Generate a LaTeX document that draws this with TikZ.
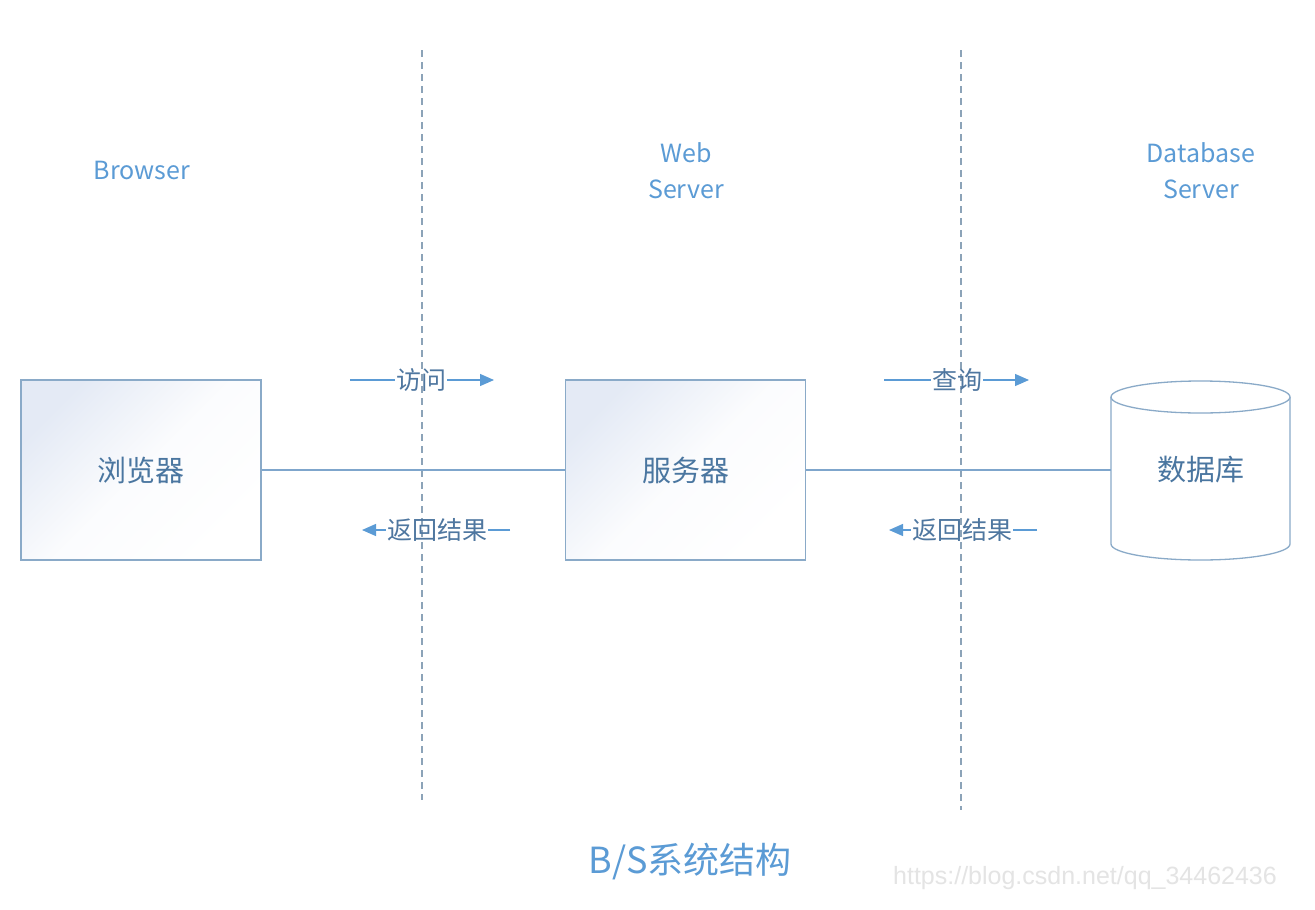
\documentclass[tikz,border=0pt]{standalone}
\usepackage{fontspec}
\setmainfont{Noto Sans CJK SC}
\newfontfamily\wmfont{Liberation Sans}
\usetikzlibrary{arrows.meta}
\definecolor{lbl}{HTML}{5B9BD5}
\definecolor{boxtxt}{HTML}{4A76A0}
\definecolor{boxline}{HTML}{8AAAC8}
\definecolor{gradtop}{HTML}{E4EAF5}
\definecolor{dashc}{HTML}{8CA3B8}
\definecolor{conn}{HTML}{7FA6CC}
\definecolor{arr}{HTML}{5B9BD5}
\definecolor{arrtxt}{HTML}{4F77A0}
\definecolor{wm}{HTML}{E4E4E4}
\tikzset{
  tierlabel/.style={text=lbl, font=\fontsize{25}{36}\selectfont, align=center, inner sep=0pt},
  boxnode/.style={draw=boxline, line width=1.3pt, minimum width=240pt, minimum height=180pt, inner sep=0pt,
     top color=gradtop, bottom color=white, middle color=white!85!gradtop, shading angle=45, text=boxtxt, font=\fontsize{29}{30}\selectfont},
  divider/.style={draw=dashc, line width=1.4pt, dash pattern=on 7pt off 5pt},
  connline/.style={draw=conn, line width=1.3pt},
  flow/.style={draw=arr, line width=1.3pt},
  flowtip/.style={-{Triangle[length=14pt,width=12pt]}},
  flowtxt/.style={text=arrtxt, font=\fontsize{25}{26}\selectfont, inner sep=1pt},
}
\begin{document}
\begin{tikzpicture}[x=1pt,y=-1pt]
\useasboundingbox (0,0) rectangle (1315,910);
\fill[white] (0,0) rectangle (1315,910);

% dividers
\coordinate (d1t) at (422,50); \coordinate (d1b) at (422,800);
\coordinate (d2t) at (961,50); \coordinate (d2b) at (961,810);
\draw[divider] (d1t) -- (d1b);
\draw[divider] (d2t) -- (d2b);

% tier labels
\node[tierlabel] (lb) at (142,170) {Browser};
\node[tierlabel] (lw) at (686,171) {Web\\Server};
\node[tierlabel] (ld) at (1201,171) {Database\\Server};

% boxes
\node[boxnode] (br) at (141,470) {浏览器};
\node[boxnode] (sv) at (685.5,470) {服务器};

% database cylinder
\node[minimum width=179pt, minimum height=180pt, inner sep=0pt] (db) at (1200.5,470) {};
\fill[white] (1111,397) -- (1111,544) arc[start angle=180,end angle=0,x radius=89.5,y radius=16] -- (1290,397) -- cycle;
\draw[boxline, line width=1.3pt] (1111,397) -- (1111,544) arc[start angle=180,end angle=0,x radius=89.5,y radius=16] -- (1290,397);
\draw[boxline, line width=1.3pt, fill=white] (1200.5,397) ellipse[x radius=89.5,y radius=16];
\node[text=boxtxt, font=\fontsize{29}{30}\selectfont] (dbt) at (1200.5,470) {数据库};

% connectors
\draw[connline] (br.east) -- (sv.west);
\draw[connline] (sv.east) -- (db.west);

% flow arrows
\coordinate (a1s) at (350,380); \coordinate (a1e) at (494,380);
\node[flowtxt] (a1t) at (421,380) {访问};
\draw[flow] (a1s) -- (a1t.west);
\draw[flow,flowtip] (a1t.east) -- (a1e);

\coordinate (a2s) at (510,530); \coordinate (a2e) at (362,530);
\node[flowtxt] (a2t) at (437,530) {返回结果};
\draw[flow] (a2s) -- (a2t.east);
\draw[flow,flowtip] (a2t.west) -- (a2e);

\coordinate (a3s) at (884,380); \coordinate (a3e) at (1029,380);
\node[flowtxt] (a3t) at (957,380) {查询};
\draw[flow] (a3s) -- (a3t.west);
\draw[flow,flowtip] (a3t.east) -- (a3e);

\coordinate (a4s) at (1037,530); \coordinate (a4e) at (889,530);
\node[flowtxt] (a4t) at (962,530) {返回结果};
\draw[flow] (a4s) -- (a4t.east);
\draw[flow,flowtip] (a4t.west) -- (a4e);

% title and watermark
\node[text=lbl, font=\fontsize{36}{38}\selectfont] (title) at (690,862) {B/S系统结构};
\node[text=wm, font=\wmfont\fontsize{25}{28}\selectfont] (wmk) at (1085,878) {https://blog.csdn.net/qq\_34462436};
\end{tikzpicture}
\end{document}
